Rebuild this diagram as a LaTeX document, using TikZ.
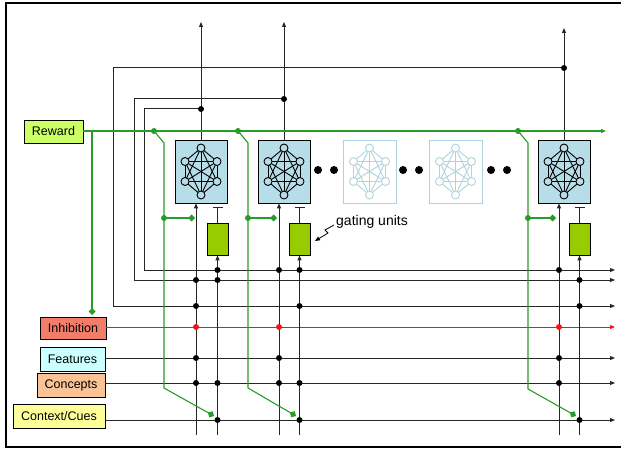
\documentclass[tikz,border=0pt]{standalone}
\usepackage{fontspec}
\setmainfont{Liberation Sans}
\usetikzlibrary{arrows.meta}
\definecolor{lgreen}{RGB}{40,155,40}
\definecolor{redline}{RGB}{245,20,20}
\definecolor{rewardfill}{RGB}{204,255,102}
\definecolor{inhfill}{RGB}{242,125,105}
\definecolor{featfill}{RGB}{204,255,255}
\definecolor{concfill}{RGB}{250,195,150}
\definecolor{ctxfill}{RGB}{255,255,153}
\definecolor{gatefill}{RGB}{153,204,0}
\definecolor{modfill}{RGB}{183,221,232}
\definecolor{fadeline}{RGB}{175,212,222}
\tikzset{
  conn/.style={line width=1pt, draw=black!85},
  arr/.style={conn, -{Triangle[length=5pt,width=4pt]}},
  grn/.style={line width=1.1pt, draw=lgreen},
  grnd/.style={grn, -{Diamond[length=7pt,width=7pt]}},
  lbl/.style={draw, line width=0.8pt, font=\fontsize{12.5}{14}\selectfont, inner sep=0pt},
  modbox/.style={draw, line width=0.8pt, fill=modfill, minimum width=52pt, minimum height=63pt, inner sep=0pt},
  fadebox/.style={draw=fadeline, line width=0.8pt, fill=white, minimum width=53pt, minimum height=63pt, inner sep=0pt},
  gatebox/.style={draw, line width=0.8pt, fill=gatefill, minimum width=21pt, minimum height=32pt, inner sep=0pt},
  netpic/.pic={
    \coordinate (p1) at (0,-23.5);
    \coordinate (p2) at (16,-10);
    \coordinate (p3) at (16,10);
    \coordinate (p4) at (0,23.5);
    \coordinate (p5) at (-16,10);
    \coordinate (p6) at (-16,-10);
    \foreach \i in {1,...,6}{\foreach \j in {1,...,6}{\ifnum\i<\j \draw[line width=0.9pt, draw=\netcol] (p\i) -- (p\j);\fi}}
    \foreach \i in {1,...,6}{\filldraw[line width=0.9pt, draw=\netcol, fill=\netfill] (p\i) circle (4pt);}
  }
}
\begin{document}
\begin{tikzpicture}[x=1pt,y=-1pt]
\useasboundingbox (0,0) rectangle (621,449);
\draw[line width=1.8pt] (640,3) -- (6,3) -- (6,447) -- (640,447);

% modules
\node[modbox] (m1) at (201,171.5) {};
\node[modbox] (m2) at (284,171.5) {};
\node[fadebox] (f1) at (369.5,171.5) {};
\node[fadebox] (f2) at (455.5,171.5) {};
\node[modbox] (m3) at (564,171.5) {};
\def\netcol{black}\def\netfill{modfill}
\pic at (m1) {netpic};
\pic at (m2) {netpic};
\pic at (m3) {netpic};
\def\netcol{fadeline}\def\netfill{white}
\pic at (f1) {netpic};
\pic at (f2) {netpic};
\foreach \x in {318,334,403,419,491,507} \fill (\x,170) circle (4pt);

% gates
\node[gatebox] (g1) at (217.5,239) {};
\node[gatebox] (g2) at (299.5,239) {};
\node[gatebox] (g3) at (579.5,239) {};
\foreach \g in {g1,g2,g3} \draw[conn, -{Bar[width=10pt]}] (\g.north) -- ++(0,-16);

% labels
\node[lbl, fill=rewardfill, minimum width=59pt, minimum height=23pt] (rew) at (53.5,131.5) {Reward};
\node[lbl, fill=inhfill, minimum width=66pt, minimum height=22pt] (inh) at (73,328) {Inhibition};
\node[lbl, fill=featfill, minimum width=65pt, minimum height=24pt] (feat) at (72.5,359) {Features};
\node[lbl, fill=concfill, minimum width=68pt, minimum height=24pt] (conc) at (71,385) {Concepts};
\node[lbl, fill=ctxfill, minimum width=92pt, minimum height=24pt] (ctx) at (59,416) {Context/Cues};
\node[font=\fontsize{14}{16}\selectfont, anchor=west, inner sep=0pt] (gtxt) at (336,222) {gating units};

% outputs upward
\coordinate (o1) at (201,22);
\coordinate (o2) at (284,22);
\coordinate (o3) at (564,28);
\draw[arr] (m1.north) -- (o1);
\draw[arr] (m2.north) -- (o2);
\draw[arr] (m3.north) -- (o3);

% feedback loops
\draw[arr] (564,68) -- (113,68) -- (113,306) -- (615,306);
\draw[arr] (284,99) -- (134,99) -- (134,280) -- (615,280);
\draw[arr] (201,109) -- (144,109) -- (144,270) -- (615,270);
\fill (564,68) circle (3pt) (284,99) circle (3pt) (201,109) circle (3pt);

% input lines
\draw[line width=1pt, draw=redline, -{Triangle[length=5pt,width=4pt]}] (inh.east |- 0,327) -- (615,327);
\draw[arr] (feat.east |- 0,358) -- (615,358);
\draw[arr] (conc.east |- 0,383) -- (615,383);
\draw[arr] (ctx.east |- 0,420) -- (615,420);

% vertical lines into modules and gates
\foreach \x/\m in {196/m1,279/m2,559/m3} \draw[arr] (\x,435) -- (\x,0 |- \m.south);
\foreach \x/\g in {217.5/g1,299.5/g2,579.5/g3} \draw[arr] (\x,435) -- (\g.south);

% junction dots
\foreach \x/\y in {217.5/270,279/270,299.5/270,559/270,
                   196/280,217.5/280,579.5/280,
                   196/306,299.5/306,579.5/306,
                   196/358,279/358,559/358,
                   196/383,217.5/383,279/383,299.5/383,559/383,
                   217.5/420,299.5/420,579.5/420}
  \fill (\x,\y) circle (3pt);
\foreach \x in {196,279,559} \fill[redline] (\x,327) circle (3pt);

% reward (green) lines
\draw[grn, -{Triangle[length=5pt,width=4pt]}] (rew.east |- 0,131) -- (606,131);
\draw[grnd] (92,131) -- (92,315);
\draw[grnd] (154,131) -- (164,143) -- (164,388) -- (214,416);
\draw[grnd] (238,131) -- (248,143) -- (248,388) -- (296,416);
\draw[grnd] (518,131) -- (528,143) -- (528,389) -- (576,416);
\draw[grnd] (164,218) -- (195,218);
\draw[grnd] (248,218) -- (277,218);
\draw[grnd] (528,218) -- (556,218);
\foreach \x/\y in {154/131,238/131,518/131,164/218,248/218,528/218}
  \fill[lgreen] (\x,\y) circle (3pt);

% gating pointer
\coordinate (gp) at (315,241);
\draw[line width=0.8pt, -{Triangle[length=5pt,width=4pt]}] (gtxt.west) ++(-2,3) -- ++(-9,5) -- ++(3,3) -- (gp);
\end{tikzpicture}
\end{document}
